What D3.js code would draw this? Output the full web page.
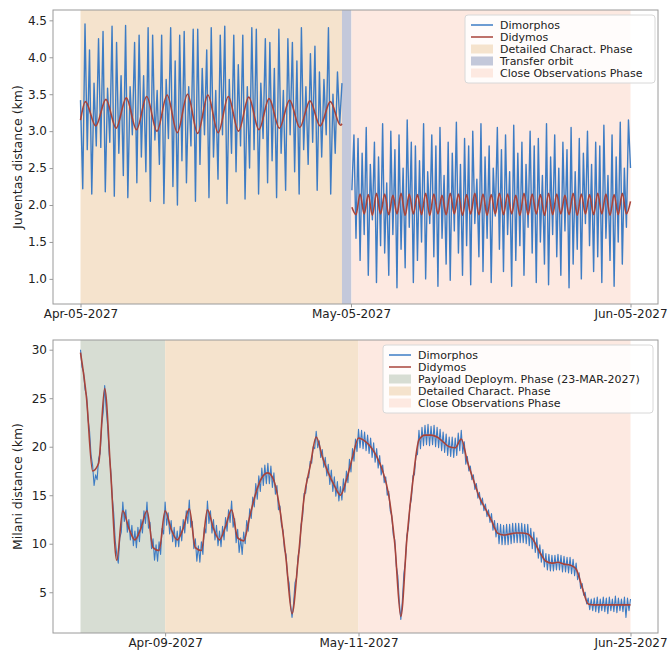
<!DOCTYPE html>
<html>
<head>
<meta charset="utf-8">
<script src="https://cdn.jsdelivr.net/npm/d3@7"></script>
<style>
  body { margin: 0; background: #fff; overflow: hidden; }
  svg { font-family: "DejaVu Sans", sans-serif; }
</style>
</head>
<body>
<svg id="chart" width="672" height="651"></svg>
<script>
// ---------- data ----------

// Juventas panel (top)
const juvStart = "2027-04-05T00:00Z", juvEnd = "2027-06-05T00:00Z";
const juvTicks = ["2027-04-05T00:00Z", "2027-05-05T00:00Z", "2027-06-05T00:00Z"];
const juvYTicks = [1.0, 1.5, 2.0, 2.5, 3.0, 3.5, 4.0, 4.5];
const juvPhases = [
  { name: "detailed", from: "2027-04-05T00:00Z", to: "2027-05-04T00:00Z" },
  { name: "transfer", from: "2027-05-04T00:00Z", to: "2027-05-05T01:12Z" },
  { name: "close",    from: "2027-05-05T01:12Z", to: "2027-06-05T00:00Z" }
];

// Dimorphos, detailed phase, evenly sampled
const dimoJuv1Start = "2027-04-05T00:00Z", dimoJuv1End = "2027-05-04T00:00Z";
const dimoJuv1 = [
  3.42, 2.22, 4.45, 2.75,  4.10, 2.15, 3.65, 2.80,  4.25, 2.78, 4.35, 2.18,
  3.58, 2.85, 4.42, 2.12,  4.20, 2.70, 3.75, 2.40,  4.43, 2.10, 3.60, 2.95,
  4.20, 2.30, 4.30, 2.65,  3.75, 2.45, 4.40, 2.05,  4.30, 2.88, 3.55, 2.55,
  4.30, 2.02, 3.70, 2.90,  4.40, 2.25, 3.95, 2.00,  4.30, 2.60, 4.35, 2.30,
  3.60, 2.80, 4.38, 2.05,  4.38, 2.55, 3.85, 2.95,  4.10, 2.10, 4.40, 2.65,
  3.55, 2.35, 4.30, 2.95,  4.42, 2.02, 3.70, 2.70,  4.30, 2.45, 3.90, 2.80,
  4.30, 2.08, 3.60, 2.50,  4.40, 2.75, 4.38, 2.15,  3.65, 2.90, 4.25, 2.30,
  4.20, 2.60, 3.85, 2.10,  4.38, 2.70, 3.55, 2.20,  4.25, 2.95, 4.20, 2.45,
  3.95, 2.15, 4.40, 2.75,  3.60, 2.55, 4.05, 2.85,  4.15, 2.20, 3.80, 2.65,
  3.70, 2.95, 4.40, 2.15,  3.50, 2.70, 3.80, 3.10,  3.65
];
// Dimorphos, close observations phase
const dimoJuv2Start = "2027-05-05T02:24Z", dimoJuv2End = "2027-06-05T00:00Z";
const dimoJuv2 = [
  2.20, 2.95, 1.55, 2.90,  1.25, 2.70, 1.60, 3.05,  1.05, 2.55, 1.80, 2.85,
  0.95, 2.65, 1.45, 3.10,  1.35, 2.30, 1.05, 3.00,  1.60, 2.75, 0.88, 2.95,
  1.40, 2.50, 1.15, 3.15,  1.70, 2.85, 0.95, 2.80,  1.25, 2.60, 1.50, 3.10,
  1.00, 2.45, 1.75, 2.95,  1.30, 2.80, 0.90, 3.05,  1.55, 2.40, 1.20, 2.85,
  0.98, 2.70, 1.65, 3.12,  1.35, 2.55, 1.05, 2.90,  1.45, 2.80, 0.92, 3.00,
  1.75, 2.35, 1.30, 3.10,  1.10, 2.65, 1.55, 2.80,  0.95, 2.50, 1.85, 3.05,
  1.40, 2.75, 1.10, 2.95,  1.60, 2.45, 0.90, 3.08,  1.25, 2.70, 1.45, 2.85,
  1.05, 2.55, 1.70, 3.00,  1.35, 2.80, 0.95, 2.90,  1.50, 2.40, 1.20, 3.10,
  0.92, 2.65, 1.60, 2.95,  1.30, 2.50, 1.05, 2.85,  1.65, 2.75, 0.88, 3.05,
  1.20, 2.45, 1.40, 2.90,  1.00, 2.70, 1.75, 3.00,  1.45, 2.55, 1.10, 2.85,
  1.30, 2.80, 0.95, 3.08,  1.55, 2.40, 1.25, 2.95,  0.90, 2.65, 1.50, 3.12,
  1.20, 2.50, 1.70, 3.15,  2.50
];
// Didymos, detailed phase: days after Apr-05 and distance
const didyJuv1Days = [0, 0.55, 1.69, 2.82, 3.95, 5.08, 6.21, 7.34, 8.48, 9.61, 10.74, 11.87, 13.00, 14.13,
  15.27, 16.40, 17.53, 18.66, 19.79, 20.92, 22.06, 23.19, 24.32, 25.45, 26.58, 27.71, 28.84, 29.0];
const didyJuv1 = [3.15, 3.40, 3.07, 3.43, 3.04, 3.45, 3.02, 3.47, 3.00, 3.49, 2.98, 3.50, 2.97, 3.49,
  2.98, 3.47, 3.00, 3.46, 3.02, 3.44, 3.04, 3.42, 3.05, 3.41, 3.07, 3.40, 3.08, 3.10];
// Didymos, close observations phase, evenly sampled
const didyJuv2Start = "2027-05-05T02:24Z", didyJuv2End = "2027-06-05T00:00Z";
const didyJuv2 = [
  1.97, 1.87, 2.15, 1.88, 2.14, 1.86, 2.16, 1.88, 2.15, 1.87,
  2.13, 1.88, 2.16, 1.86, 2.15, 1.88, 2.14, 1.87, 2.16, 1.86,
  2.15, 1.88, 2.13, 1.87, 2.16, 1.88, 2.15, 1.86, 2.14, 1.88,
  2.16, 1.87, 2.15, 1.86, 2.14, 1.88, 2.16, 1.87, 2.15, 1.88,
  2.13, 1.86, 2.16, 1.87, 2.15, 1.88, 2.14, 1.86, 2.16, 1.87,
  2.15, 1.88, 2.13, 1.87, 2.16, 1.86, 2.15, 1.88, 2.14, 1.87,
  2.16, 1.88, 2.15, 1.86, 2.14, 1.87, 2.16, 1.88, 2.05
];

// Milani panel (bottom)
const milStart = "2027-03-26T00:00Z", milEnd = "2027-06-25T00:00Z";
const milTicks = ["2027-04-09T00:00Z", "2027-05-11T00:00Z", "2027-06-25T00:00Z"];
const milYTicks = [5, 10, 15, 20, 25, 30];
const milPhases = [
  { name: "payload",  from: "2027-03-26T00:00Z", to: "2027-04-09T00:00Z" },
  { name: "detailed", from: "2027-04-09T00:00Z", to: "2027-05-11T00:00Z" },
  { name: "close",    from: "2027-05-11T00:00Z", to: "2027-06-25T00:00Z" }
];
// Didymos, one value per day
const didyMil = [
  29.7, 25.0, 17.5, 18.3, 26.0, 17.3, 8.3, 13.4, 11.6, 10.4,
  11.6, 13.4, 9.6, 9.3, 13.4, 11.5, 10.4, 11.6, 13.6, 9.6,
  9.3, 13.5, 11.6, 10.4, 11.8, 13.5, 10.6, 10.3, 12.8, 15.2,
  16.8, 17.3, 16.5, 13.5, 8.5, 2.8, 8.3, 14.8, 18.0, 21.0,
  19.0, 17.3, 16.0, 15.0, 16.6, 18.9, 20.9, 20.6, 20.0, 19.0,
  17.5, 15.0, 10.0, 2.5, 10.5, 16.5, 20.7, 21.2, 21.2, 21.0,
  20.5, 20.0, 19.9, 20.8, 18.5, 16.6, 14.8, 13.6, 12.4, 11.1,
  10.9, 11.0, 11.1, 11.1, 11.0, 10.3, 9.1, 8.2, 8.0, 8.1,
  7.9, 7.8, 7.4, 5.5, 3.8, 3.7, 3.7, 3.7, 3.7, 3.7,
  3.7, 3.7
];
// Dimorphos, four values per day
const dimoMil = [
  30.0, 28.2, 27.7, 25.9,  25.3, 22.8, 21.6, 19.1,  18.1, 16.0, 17.1, 16.6,
  18.8, 19.3, 22.3, 23.5,  26.3, 23.9, 22.1, 19.2,  17.6, 14.8, 13.1, 10.3,
  8.9, 8.0, 10.6, 11.2,    14.3, 12.3, 13.5, 11.2,  12.5, 10.4, 11.9, 9.8,
  11.3, 9.6, 11.7, 10.2,   12.5, 11.1, 13.4, 12.1,  14.3, 11.6, 12.2, 9.5,
  10.5, 8.3, 9.9, 8.2,     10.2, 8.9, 11.6, 11.0,   14.3, 11.9, 13.2, 11.0,
  12.4, 10.2, 11.7, 9.7,   11.3, 9.7, 11.8, 10.3,   12.5, 11.1, 13.4, 12.1,
  14.5, 11.7, 12.3, 9.5,   10.5, 8.2, 9.8, 8.1,     10.2, 8.9, 11.7, 11.1,
  14.4, 12.1, 13.4, 11.1,  12.5, 10.4, 11.9, 9.8,   11.3, 9.7, 11.8, 10.4,
  12.7, 11.3, 13.5, 12.2,  14.4, 11.7, 12.6, 10.1,  11.5, 9.1, 10.6, 8.9,
  11.2, 10.0, 12.4, 11.3,  13.6, 12.6, 14.8, 13.8,  16.2, 14.6, 17.0, 15.4,
  17.8, 16.0, 18.1, 16.2,  18.3, 16.2, 18.0, 15.8,  17.3, 15.1, 16.0, 13.5,
  13.9, 11.9, 11.4, 9.4,   8.9, 6.7, 6.0, 3.8,      2.4, 3.8, 6.0, 6.5,
  8.7, 9.5, 12.0, 12.8,    15.2, 15.2, 16.8, 16.8,  18.5, 18.3, 20.0, 19.8,
  21.6, 19.9, 20.6, 18.9,  19.7, 17.9, 18.9, 17.0,  18.2, 16.1, 17.6, 15.4,
  16.9, 14.9, 16.4, 14.4,  15.9, 14.5, 16.7, 15.3,  17.5, 16.3, 18.7, 17.4,
  19.8, 18.5, 20.8, 19.5,  21.8, 19.9, 21.7, 19.8,  21.5, 19.6, 21.2, 19.3,
  20.9, 18.9, 20.4, 18.4,  19.8, 17.8, 19.1, 17.1,  18.1, 16.3, 16.9, 15.0,
  15.4, 13.4, 12.9, 10.9,  10.4, 7.7, 6.7, 4.0,     2.2, 4.1, 6.9, 8.1,
  10.9, 11.6, 13.9, 14.6,  17.0, 17.1, 19.1, 19.2,  21.7, 19.8, 22.0, 20.1,
  22.2, 20.2, 22.3, 20.1,  22.1, 20.2, 22.2, 20.0,  22.0, 19.9, 21.8, 19.6,
  21.5, 19.4, 21.3, 19.1,  21.0, 19.0, 21.0, 18.9,  20.9, 19.1, 21.4, 19.6,
  21.7, 19.3, 20.5, 18.2,  19.0, 17.5, 18.0, 16.6,  17.1, 15.6, 16.2, 14.7,
  15.3, 14.0, 14.7, 13.4,  14.1, 12.8, 13.5, 12.2,  13.1, 11.4, 12.4, 10.7,
  12.1, 10.0, 12.0, 9.9,   11.9, 9.9, 12.0, 9.9,    12.0, 10.0, 12.1, 10.1,
  12.1, 10.1, 12.1, 10.1,  12.1, 10.1, 12.0, 10.0,  12.0, 9.8, 11.6, 9.5,
  11.2, 9.1, 10.6, 8.5,    9.9, 8.1, 9.4, 7.6,      9.0, 7.3, 8.9, 7.2,
  8.8, 7.2, 8.8, 7.3,      8.9, 7.3, 8.8, 7.1,      8.7, 7.1, 8.6, 7.0,
  8.6, 6.9, 8.4, 6.7,      8.0, 6.3, 7.0, 5.4,      5.9, 4.7, 5.0, 3.8,
  4.4, 3.2, 4.3, 3.1,      4.4, 3.0, 4.5, 2.9,      4.3, 3.1, 4.5, 3.0,
  4.4, 2.8, 4.5, 3.1,      4.3, 3.0, 4.6, 2.9,      4.4, 3.1, 4.3, 3.0,
  4.5, 2.4, 4.4, 3.1,      4.3
];

// ---------- styles ----------
const phaseColor = { detailed: "#f5e3cd", transfer: "#c3c8da", close: "#fde9e1", payload: "#d7ddd3" };
const phaseLabel = {
  detailed: "Detailed Charact. Phase", transfer: "Transfer orbit",
  close: "Close Observations Phase", payload: "Payload Deploym. Phase (23-MAR-2027)"
};
const blue = "#3d7cc4", red = "#a8433a";
const L = 53, R = 658;

const svg = d3.select("#chart");
const fmt = d3.utcFormat("%b-%d-%Y");
const DAY = 864e5;

function even(start, end, values) {
  const a = +new Date(start), b = +new Date(end), n = values.length - 1;
  return values.map((v, i) => ({ t: new Date(a + (b - a) * i / n), v }));
}
function byDays(start, days, values) {
  const a = +new Date(start);
  return values.map((v, i) => ({ t: new Date(a + days[i] * DAY), v }));
}

function panel(o) {
  const a = +new Date(o.start), b = +new Date(o.end), pad = (b - a) * 0.05;
  const x = d3.scaleUtc().domain([new Date(a - pad), new Date(b + pad)]).range([L, R]);
  const y = d3.scaleLinear().domain(o.yDomain).range([o.bottom, o.top]);
  const g = svg.append("g");

  g.selectAll("rect.phase").data(o.phases).join("rect")
    .attr("class", "phase")
    .attr("x", d => x(new Date(d.from)))
    .attr("width", d => x(new Date(d.to)) - x(new Date(d.from)))
    .attr("y", o.top).attr("height", o.bottom - o.top)
    .attr("fill", d => phaseColor[d.name]);

  const lin = d3.line().x(d => x(d.t)).y(d => y(d.v));
  const smooth = d3.line().x(d => x(d.t)).y(d => y(d.v)).curve(d3.curveMonotoneX);
  o.blue.forEach(s => g.append("path").attr("d", lin(s))
    .attr("fill", "none").attr("stroke", blue).attr("stroke-width", o.blueWidth).attr("stroke-linejoin", "round"));
  o.red.forEach(s => g.append("path").attr("d", smooth(s))
    .attr("fill", "none").attr("stroke", red).attr("stroke-width", 1.6));

  g.append("rect").attr("x", L).attr("y", o.top).attr("width", R - L).attr("height", o.bottom - o.top)
    .attr("fill", "none").attr("stroke", "#9a9a9a").attr("stroke-width", 1);

  const xa = g.append("g").attr("transform", `translate(0,${o.bottom})`)
    .call(d3.axisBottom(x).tickValues(o.ticks.map(t => new Date(t))).tickFormat(fmt)
      .tickSize(3.5).tickSizeOuter(0).tickPadding(2));
  const ya = g.append("g").attr("transform", `translate(${L},0)`)
    .call(d3.axisLeft(y).tickValues(o.yTicks).tickFormat(o.yFmt).tickSize(3.5).tickSizeOuter(0).tickPadding(2.5));
  [xa, ya].forEach(ax => {
    ax.select(".domain").remove();
    ax.selectAll(".tick line").attr("stroke", "#9a9a9a");
    ax.selectAll(".tick text").attr("fill", "#222").style("font-size", "12px")
      .style("font-family", "DejaVu Sans, sans-serif");
  });

  g.append("text")
    .attr("transform", `translate(18,${(o.top + o.bottom) / 2}) rotate(-90)`)
    .attr("text-anchor", "middle").attr("dy", "0.35em")
    .style("font-size", "12.5px").attr("fill", "#222")
    .text(o.yLabel);

  // legend
  const lg = g.append("g");
  lg.append("rect").attr("x", o.leg.x).attr("y", o.leg.y).attr("width", o.leg.w).attr("height", o.leg.h)
    .attr("rx", 3).attr("fill", "#fff").attr("fill-opacity", 0.85).attr("stroke", "#d8d8d8");
  o.leg.items.forEach((it, i) => {
    const cy = o.leg.y + 10 + i * 12;
    const hx = o.leg.x + 6;
    if (it.kind === "line") {
      lg.append("line").attr("x1", hx).attr("x2", hx + 22).attr("y1", cy).attr("y2", cy)
        .attr("stroke", it.color).attr("stroke-width", 1.5);
    } else {
      lg.append("rect").attr("x", hx).attr("y", cy - 4.5).attr("width", 22).attr("height", 9)
        .attr("fill", phaseColor[it.phase]);
    }
    lg.append("text").attr("x", hx + 29).attr("y", cy).attr("dy", "0.35em")
      .style("font-size", "11px").attr("fill", "#222")
      .text(it.kind === "line" ? it.label : phaseLabel[it.phase]);
  });
}

panel({
  start: juvStart, end: juvEnd, top: 10, bottom: 304, yDomain: [0.66, 4.64],
  ticks: juvTicks, yTicks: juvYTicks, yFmt: d3.format(".1f"),
  yLabel: "Juventas distance (km)", phases: juvPhases, blueWidth: 1.4,
  blue: [even(dimoJuv1Start, dimoJuv1End, dimoJuv1), even(dimoJuv2Start, dimoJuv2End, dimoJuv2)],
  red: [byDays(juvStart, didyJuv1Days, didyJuv1), even(didyJuv2Start, didyJuv2End, didyJuv2)],
  leg: { x: 465, y: 15, w: 190, h: 68, items: [
    { kind: "line", label: "Dimorphos", color: blue },
    { kind: "line", label: "Didymos", color: red },
    { kind: "patch", phase: "detailed" },
    { kind: "patch", phase: "transfer" },
    { kind: "patch", phase: "close" }
  ] }
});

panel({
  start: milStart, end: milEnd, top: 340, bottom: 633, yDomain: [0.8, 31.0],
  ticks: milTicks, yTicks: milYTicks, yFmt: d3.format("d"),
  yLabel: "Milani distance (km)", phases: milPhases, blueWidth: 1.1,
  blue: [even(milStart, milEnd, dimoMil)],
  red: [even(milStart, milEnd, didyMil)],
  leg: { x: 383, y: 345, w: 270, h: 68, items: [
    { kind: "line", label: "Dimorphos", color: blue },
    { kind: "line", label: "Didymos", color: red },
    { kind: "patch", phase: "payload" },
    { kind: "patch", phase: "detailed" },
    { kind: "patch", phase: "close" }
  ] }
});
</script>
</body>
</html>
